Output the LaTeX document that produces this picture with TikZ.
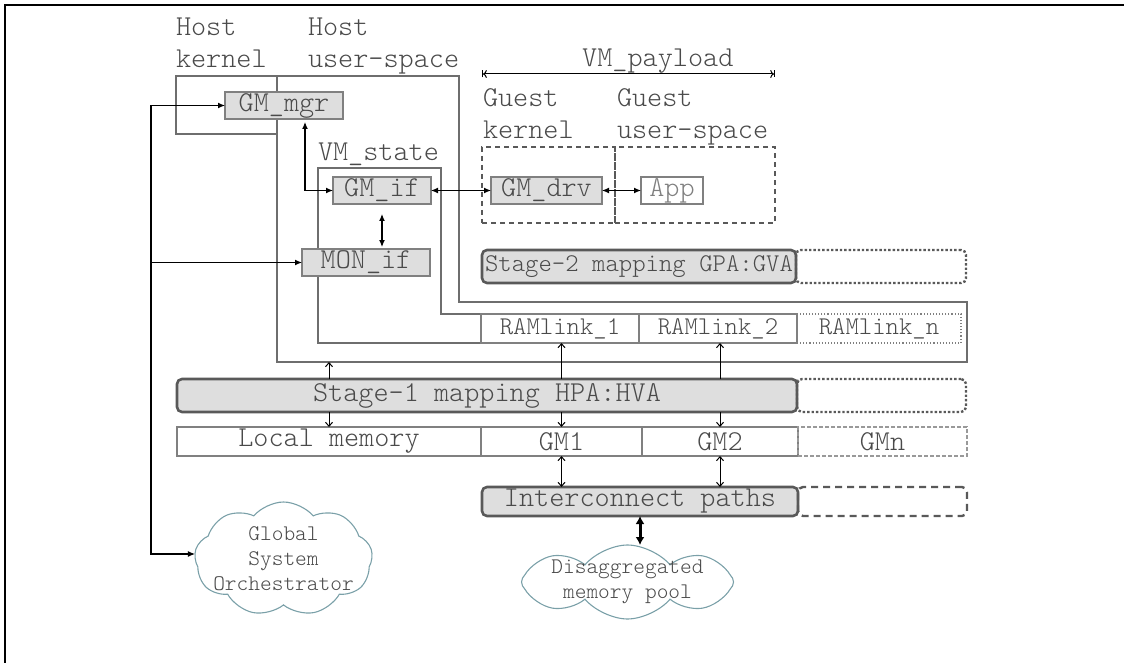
\documentclass[tikz,border=0pt]{standalone}
\usepackage{fontspec}
\setmainfont{lmmonolt10-regular}[Extension=.otf]
\usetikzlibrary{arrows.meta,positioning,shapes.symbols}
\definecolor{txtgray}{HTML}{4A4A4A}
\definecolor{boxfill}{HTML}{DEDEDE}
\definecolor{boxedge}{HTML}{808080}
\definecolor{linegray}{HTML}{6E6E6E}
\definecolor{mapedge}{HTML}{595959}
\definecolor{cloudedge}{HTML}{7AA0A8}
\begin{document}
\begin{tikzpicture}[x=1pt,y=-1pt,inner sep=0pt,outer sep=0pt,line width=1.2pt,
big/.style={font=\fontsize{28.8}{32}\selectfont,text=txtgray},
mid/.style={font=\fontsize{25.5}{28}\selectfont,text=txtgray},
blk/.style={draw=boxedge,fill=boxfill,line width=1.1pt,minimum height=27pt,big},
cell/.style={draw=boxedge,line width=1.1pt,minimum height=29pt,big},
mapbox/.style={draw=mapedge,fill=boxfill,line width=2.6pt,rounded corners=5pt,minimum height=33pt,big},
mapext/.style={draw=mapedge,line width=2.4pt,dotted,rounded corners=5pt,minimum height=33pt},
outline/.style={draw=linegray,line width=1.3pt},
guestbox/.style={draw=mapedge,line width=1.4pt,dash pattern=on 5pt off 4pt},
cloudy/.style={draw=cloudedge,line width=1.1pt,cloud,cloud puffs=9,cloud puff arc=100,cloud ignores aspect},
cloudtxt/.style={font=\fontsize{22.3}{25}\selectfont,text=txtgray,align=center},
fat/.style={{Latex[length=7pt,width=6pt]}-{Latex[length=7pt,width=6pt]}},
slim/.style={line width=1pt,-{Straight Barb[length=4pt,width=7pt]}},
slimboth/.style={line width=1pt,{Straight Barb[length=4pt,width=7pt]}-{Straight Barb[length=4pt,width=7pt]}}]
\useasboundingbox (0,0) rectangle (1124,663);
\draw[line width=2pt] (5,663) -- (5,5) -- (1124,5);
% host and VM outlines
\draw[outline] (176,76) rectangle (277,134);
\draw[outline] (277,76) -- (459,76) -- (459,302) -- (967,302) -- (967,362) -- (277,362) -- cycle;
\coordinate (husB) at (277,362);
\draw[outline] (318,168) -- (441,168) -- (441,314) -- (481,314) -- (481,343) -- (318,343) -- cycle;
\node[big,align=left,anchor=base west] at (176,68) {Host\\kernel};
\node[big,align=left,anchor=base west] at (308,68) {Host\\user-space};
\node[big,anchor=base west] at (318,161) {VM\_state};
% guest side
\draw (548.5,185) node[guestbox,minimum width=133pt,minimum height=76pt] (GK) {};
\draw (695,185) node[guestbox,minimum width=160pt,minimum height=76pt] (GU) {};
\node[big,align=left,anchor=base west] at (483,139) {Guest\\kernel};
\node[big,align=left,anchor=base west] at (617,139) {Guest\\user-space};
\draw[|<->|,line width=1pt] ([yshift=73pt]GK.north west) -- ([yshift=73pt]GU.north east)
  node[pos=0.6,anchor=base,yshift=7pt,big] {VM\_payload};
% blocks
\draw (284,105.5) node[blk,minimum width=118pt] (GMmgr) {GM\_mgr};
\draw (382,190.5) node[blk,minimum width=98pt] (GMif) {GM\_if};
\draw (366,262.5) node[blk,minimum width=128pt] (MONif) {MON\_if};
\draw (546.5,190.5) node[blk,minimum width=111pt] (GMdrv) {GM\_drv};
\draw (672,190.5) node[blk,fill=white,text=gray,minimum width=62pt] (App) {App};
% mappings
\draw (639,266.5) node[mapbox,mid,minimum width=314pt] (S2) {Stage-2 mapping GPA:GVA};
\node[mapext,minimum width=170pt,right=0pt of S2] (S2x) {};
\draw (560,328.5) node[cell,mid,minimum width=158pt] (RL1) {RAMlink\_1};
\node[cell,mid,minimum width=158pt,right=0pt of RL1] (RL2) {RAMlink\_2};
\node[cell,mid,dotted,minimum width=164pt,right=0pt of RL2] (RLn) {RAMlink\_n};
\draw (487,395.5) node[mapbox,minimum width=620pt] (S1) {Stage-1 mapping HPA:HVA};
\node[mapext,minimum width=169pt,right=0pt of S1] (S1x) {};
\draw (329,441.5) node[cell,minimum width=304pt] (LM) {Local memory};
\node[cell,minimum width=161pt,right=0pt of LM] (GM1) {GM1};
\node[cell,minimum width=156pt,right=0pt of GM1] (GM2) {GM2};
\node[cell,draw=boxedge!80,dash pattern=on 4pt off 2pt,minimum width=169pt,right=0pt of GM2] (GMn) {GMn};
\draw (640,501.5) node[mapbox,minimum height=29pt,minimum width=316pt] (IC) {Interconnect paths};
\node[mapext,minimum height=29pt,minimum width=169pt,dash pattern=on 7pt off 5pt,right=0pt of IC] (ICx) {};
% clouds
\draw (283.5,559) node[cloudy,minimum width=178pt,minimum height=114pt,
  label={[cloudtxt]center:Global\\System\\Orchestrator}] (GSO) {};
\draw (627.5,582) node[cloudy,cloud puffs=8,minimum width=212pt,minimum height=74pt,
  label={[cloudtxt]center:Disaggregated\\memory pool}] (Pool) {};
% control links
\coordinate (bus) at (151,0);
\draw[fat] ([yshift=5pt]GSO.west) -| (bus |- GMmgr.west) -- (GMmgr.west);
\draw[-{Latex[length=7pt,width=6pt]}] (bus |- MONif.west) -- (MONif.west);
\draw[fat] ([xshift=21pt,yshift=-3pt]GMmgr.south) |- (GMif.west);
\draw[fat,shorten <=10pt,shorten >=2pt] (GMif.south) -- (GMif.south |- MONif.north);
\draw[fat] (GMif.east) -- (GMdrv.west);
\draw[fat] (GMdrv.east) -- (App.west);
% memory links
\draw[slim] (LM.north |- S1.north) -- (LM.north |- husB);
\draw[slim] (LM.north |- S1.south) -- (LM.north);
\draw[slim] (GM1.north |- S1.north) -- (GM1.north |- RL1.south);
\draw[slim] (GM1.north |- S1.south) -- (GM1.north);
\draw[slim] (GM2.north |- S1.north) -- (GM2.north |- RL2.south);
\draw[slim] (GM2.north |- S1.south) -- (GM2.north);
\draw[slimboth] (GM1.south) -- (GM1.south |- IC.north);
\draw[slimboth] (GM2.south) -- (GM2.south |- IC.north);
\draw[line width=3pt,{Latex[length=8pt,width=9pt]}-{Latex[length=8pt,width=9pt]}] (IC.south) -- (IC.south |- Pool.north);
\end{tikzpicture}
\end{document}
